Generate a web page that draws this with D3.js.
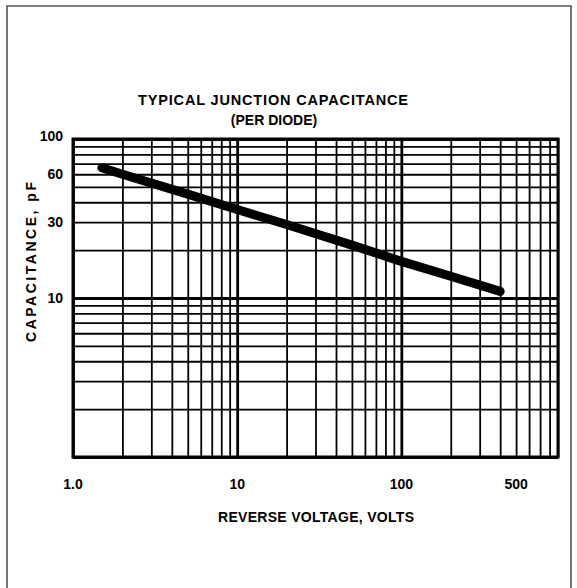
<!DOCTYPE html>
<html>
<head>
<meta charset="utf-8">
<script src="https://cdn.jsdelivr.net/npm/d3@7"></script>
<style>
  body { margin: 0; background: #fff; }
  text { font-family: "Liberation Sans", Arial, Helvetica, sans-serif; font-weight: bold; fill: #000; }
</style>
</head>
<body>
<div id="chart"></div>
<script>
// curve (reverse voltage in volts, capacitance in pF)
var voltage = [1.5, 2, 5, 10, 20, 50, 100, 200, 400];
var capacitance = [66, 60, 45, 36, 29, 21.5, 17, 13.7, 11];

// axis labels
var xTickValues = [1, 10, 100, 500];
var xTickLabels = ["1.0", "10", "100", "500"];
var yTickValues = [100, 60, 30, 10];
var yTickLabels = ["100", "60", "30", "10"];

var xDomain = [1, 900];
var yDomain = [1, 100];

const width = 577, height = 588;
const plotLeft = 73, plotRight = 558, plotTop = 139, plotBottom = 457;

var svg = d3.select("#chart").append("svg")
    .attr("width", width)
    .attr("height", height);

// outer frame of the scanned page
svg.append("path")
    .attr("d", "M7,592 L7,6 L571,6 L571,592")
    .attr("fill", "none")
    .attr("stroke", "#555")
    .attr("stroke-width", 1.6);

var x = d3.scaleLog().domain(xDomain).range([plotLeft, plotRight]);
var y = d3.scaleLog().domain(yDomain).range([plotBottom, plotTop]);

// grid lines: every 1..9 of each decade
var xGrid = [];
[1, 10, 100].forEach(function (d) {
    for (var i = 1; i <= 9; i++) {
        if (d * i <= xDomain[1]) xGrid.push(d * i);
    }
});
var yGrid = [];
[1, 10].forEach(function (d) {
    for (var i = 1; i <= 9; i++) yGrid.push(d * i);
});
yGrid.push(100);

function isDecade(v) {
    var l = Math.log10(v);
    return Math.abs(l - Math.round(l)) < 1e-9;
}

var grid = svg.append("g").attr("class", "grid");

grid.append("g")
    .attr("transform", "translate(0," + plotBottom + ")")
    .call(d3.axisBottom(x).tickValues(xGrid).tickSize(-(plotBottom - plotTop)).tickFormat(""))
    .call(function (g) { g.select(".domain").remove(); })
    .selectAll("line")
    .attr("stroke", "#000")
    .attr("stroke-width", function (d) { return isDecade(d) ? 2.8 : 1.8; });

grid.append("g")
    .attr("transform", "translate(" + plotLeft + ",0)")
    .call(d3.axisLeft(y).tickValues(yGrid).tickSize(-(plotRight - plotLeft)).tickFormat(""))
    .call(function (g) { g.select(".domain").remove(); })
    .selectAll("line")
    .attr("stroke", "#000")
    .attr("stroke-width", function (d) { return isDecade(d) ? 2.8 : 1.8; });

// plot border
svg.append("rect")
    .attr("x", plotLeft)
    .attr("y", plotTop)
    .attr("width", plotRight - plotLeft)
    .attr("height", plotBottom - plotTop)
    .attr("fill", "none")
    .attr("stroke", "#000")
    .attr("stroke-width", 3);

// tick labels
svg.append("g").selectAll("text")
    .data(xTickValues).enter()
    .append("text")
    .attr("x", function (d) { return x(d); })
    .attr("y", 489)
    .attr("text-anchor", "middle")
    .attr("font-size", 14)
    .text(function (d, i) { return xTickLabels[i]; });

svg.append("g").selectAll("text")
    .data(yTickValues).enter()
    .append("text")
    .attr("x", 63)
    .attr("y", function (d) { return y(d) + (d === 100 ? 2 : 4.5); })
    .attr("text-anchor", "end")
    .attr("font-size", 14)
    .text(function (d, i) { return yTickLabels[i]; });

// titles
svg.append("text")
    .attr("x", 273)
    .attr("y", 105)
    .attr("text-anchor", "middle")
    .attr("font-size", 14.5)
    .attr("textLength", 270)
    .attr("lengthAdjust", "spacing")
    .text("TYPICAL JUNCTION CAPACITANCE");

svg.append("text")
    .attr("x", 274)
    .attr("y", 125)
    .attr("text-anchor", "middle")
    .attr("font-size", 14)
    .text("(PER DIODE)");

svg.append("text")
    .attr("x", 316)
    .attr("y", 522)
    .attr("text-anchor", "middle")
    .attr("font-size", 14)
    .attr("textLength", 196)
    .attr("lengthAdjust", "spacing")
    .text("REVERSE VOLTAGE, VOLTS");

svg.append("text")
    .attr("transform", "translate(36,262) rotate(-90)")
    .attr("text-anchor", "middle")
    .attr("font-size", 14)
    .attr("textLength", 160)
    .attr("lengthAdjust", "spacing")
    .text("CAPACITANCE, pF");

// the curve
var line = d3.line()
    .x(function (d) { return x(d[0]); })
    .y(function (d) { return y(d[1]); });

svg.append("path")
    .datum(voltage.map(function (v, i) { return [v, capacitance[i]]; }))
    .attr("d", line)
    .attr("fill", "none")
    .attr("stroke", "#000")
    .attr("stroke-width", 9)
    .attr("stroke-linecap", "round");
</script>
</body>
</html>
